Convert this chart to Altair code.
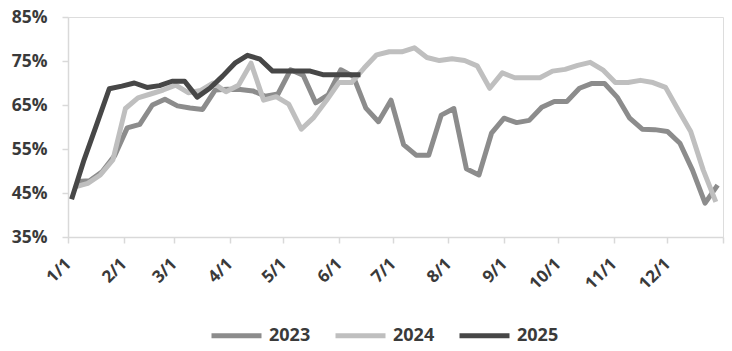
import altair as alt
import pandas as pd

series_names = ["2023", "2024", "2025"]
series_colors = ["#8c8c8c", "#bfbfbf", "#474747"]
# first weekly observation of each year (placed on a common calendar axis)
first_dates = ["2023-01-06", "2023-01-05", "2023-01-03"]

vals_2023 = [47.6, 47.8, 49.8, 53.5, 59.8, 60.6, 65.0, 66.3, 64.8, 64.3,
             64.0, 68.4, 68.6, 68.5, 68.2, 67.0, 67.5, 73.0, 71.8, 65.5,
             67.3, 73.0, 71.5, 64.3, 61.2, 66.1, 56.0, 53.6, 53.6, 62.7,
             64.2, 50.5, 49.1, 58.6, 62.0, 61.0, 61.5, 64.5, 65.8, 65.8,
             68.8, 69.9, 69.9, 66.8, 62.0, 59.5, 59.4, 59.0, 56.3, 50.2,
             42.7, 46.8]
vals_2024 = [46.4, 47.2, 49.1, 52.5, 64.2, 66.6, 67.5, 68.4, 69.5, 67.8,
             68.3, 70.0, 68.0, 69.5, 74.5, 66.1, 66.9, 65.2, 59.5, 62.2,
             66.0, 70.1, 70.1, 73.4, 76.4, 77.1, 77.1, 78.0, 75.8, 75.1,
             75.5, 75.1, 73.9, 68.8, 72.3, 71.2, 71.2, 71.2, 72.7, 73.1,
             74.0, 74.7, 73.0, 70.1, 70.1, 70.6, 70.1, 69.0, 63.9, 59.0,
             50.2, 43.0]
vals_2025 = [43.6, 52.6, 60.6, 68.7, 69.3, 70.0, 69.0, 69.4, 70.4, 70.4,
             66.8, 68.8, 71.5, 74.5, 76.3, 75.4, 72.7, 72.7, 72.7, 72.7,
             71.9, 71.9, 71.9, 71.9]

month_ticks = ["2023-%02d-01" % m for m in range(1, 13)] + ["2024-01-01"]

rows = []
for name, start, vals in zip(series_names, first_dates, [vals_2023, vals_2024, vals_2025]):
    dates = pd.date_range(start, periods=len(vals), freq="7D")
    for i, (d, v) in enumerate(zip(dates, vals)):
        rows.append({"date": d.strftime("%Y-%m-%d"), "value": v / 100.0,
                     "series": name, "order": i})
df = pd.DataFrame(rows)

FONT = "Open Sans"
LABEL_COLOR = "#3a3a3a"
AXIS_COLOR = "#d9d9d9"

chart = alt.Chart(df).mark_line(strokeWidth=5, strokeJoin="round").encode(
    x=alt.X("date:T",
            scale=alt.Scale(domain=["2023-01-01T00:00:00", "2024-01-01T00:00:00"], nice=False),
            axis=alt.Axis(title=None, values=month_ticks, format="%-m/%-d",
                          labelExpr="year(datum.value) > 2023 ? '' : timeFormat(datum.value, '%-m/%-d')",
                          labelAngle=-45, labelAlign="right", labelBaseline="middle",
                          labelPadding=18, tickSize=6, grid=False,
                          labelFontSize=17, labelFont=FONT, labelFontWeight="bold",
                          labelColor=LABEL_COLOR, domainColor=AXIS_COLOR, tickColor=AXIS_COLOR,
                          domainWidth=1.5, tickWidth=1.5, labelOverlap=False)),
    y=alt.Y("value:Q",
            scale=alt.Scale(domain=[0.35, 0.85], nice=False, zero=False),
            axis=alt.Axis(title=None, values=[0.35, 0.45, 0.55, 0.65, 0.75, 0.85], format=".0%",
                          tickSize=6, labelPadding=15, grid=False,
                          labelFontSize=17.5, labelFont=FONT, labelFontWeight="bold",
                          labelColor=LABEL_COLOR, domainColor=AXIS_COLOR, tickColor=AXIS_COLOR,
                          domainWidth=1.5, tickWidth=1.5)),
    color=alt.Color("series:N",
                    scale=alt.Scale(domain=series_names, range=series_colors),
                    legend=alt.Legend(title=None, orient="none", legendX=141, legendY=291,
                                      direction="horizontal", symbolType="stroke",
                                      symbolSize=2500, symbolStrokeWidth=5,
                                      labelFontSize=18, labelFont=FONT, labelFontWeight="bold",
                                      labelColor=LABEL_COLOR, labelOffset=5, columnPadding=14,
                                      padding=0)),
    order=alt.Order("order:Q"),
).properties(
    width=655, height=220,
    autosize=alt.AutoSizeParams(type="none"),
    padding={"left": 68, "top": 17, "right": 9, "bottom": 114},
).configure_view(stroke=None).configure(background="white")

chart.save("out.html", embed_options={"renderer": "svg", "actions": False})
